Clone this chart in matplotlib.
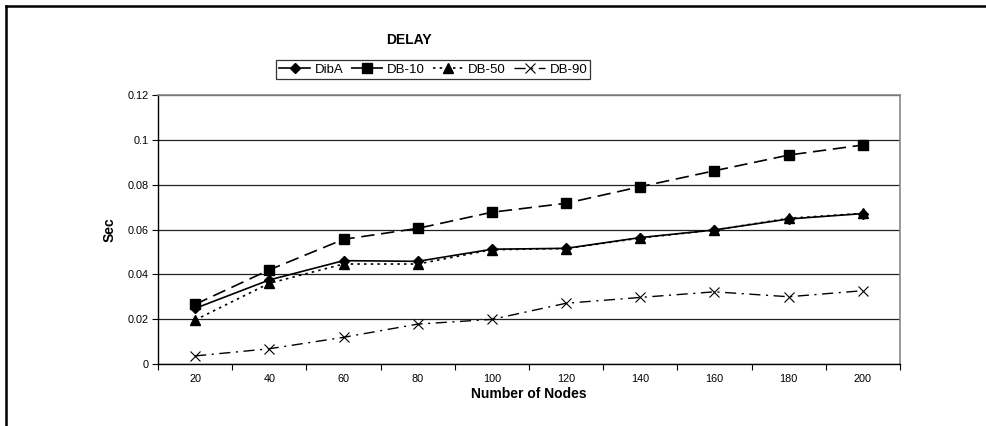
import matplotlib
matplotlib.use("Agg")
import matplotlib.pyplot as plt
from matplotlib.lines import Line2D

plt.rcParams['font.family'] = ['Liberation Sans', 'DejaVu Sans']

nodes = [20, 40, 60, 80, 100, 120, 140, 160, 180, 200]
diba = [0.0248, 0.0375, 0.0461, 0.0458, 0.0512, 0.0516, 0.0564, 0.0598, 0.0647, 0.0671]
db10 = [0.0266, 0.0420, 0.0556, 0.0605, 0.0677, 0.0717, 0.0791, 0.0862, 0.0932, 0.0977]
db50 = [0.0196, 0.0360, 0.0446, 0.0446, 0.0510, 0.0515, 0.0562, 0.0598, 0.0650, 0.0672]
db90 = [0.0036, 0.0068, 0.0119, 0.0178, 0.0199, 0.0271, 0.0297, 0.0322, 0.0300, 0.0327]
yticks = [0, 0.02, 0.04, 0.06, 0.08, 0.1, 0.12]
ytick_labels = ['0', '0.02', '0.04', '0.06', '0.08', '0.1', '0.12']

W, H = 987, 426
fig = plt.figure(figsize=(W / 100, H / 100), dpi=100)
ax = fig.add_axes([158 / W, 1 - 364 / H, (900 - 158) / W, (364 - 95) / H])

ax.plot(nodes, diba, color='black', lw=1.2, ls='-', marker='D', ms=5, label='DibA', zorder=4)
ax.plot(nodes, db10, color='black', lw=1.2, ls=(0, (8, 4)), marker='s', ms=7, label='DB-10', zorder=3)
ax.plot(nodes, db50, color='black', lw=1.2, ls=(0, (1.5, 2.5)), marker='^', ms=7, label='DB-50', zorder=3)
ax.plot(nodes, db90, color='black', lw=1.0, ls=(0, (8, 4, 1.5, 4)), marker='x', ms=7,
        mew=0.8, label='DB-90', zorder=3)

ax.set_xlim(10, 210)
ax.set_ylim(0, 0.12)
ax.set_xticks(nodes)
ax.set_xticklabels([str(n) for n in nodes])
ax.set_xticks([10 + 20 * k for k in range(11)], minor=True)
ax.tick_params(axis='x', which='major', length=0, labelsize=7.8, pad=7)
ax.tick_params(axis='x', which='minor', length=4, direction='out', width=0.8)
ax.set_yticks(yticks)
ax.set_yticklabels(ytick_labels)
ax.tick_params(axis='y', length=4, width=0.8, labelsize=7.8, direction='out', pad=3)

ax.grid(axis='y', color='#222222', lw=0.9)
ax.set_axisbelow(True)
for s in ['top', 'right']:
    ax.spines[s].set_color('#888888')
    ax.spines[s].set_linewidth(1.2)
for s in ['left', 'bottom']:
    ax.spines[s].set_color('black')
    ax.spines[s].set_linewidth(1.0)

ax.set_xlabel('Number of Nodes', fontsize=10, fontweight='bold', labelpad=2)
fig.text(110 / W, 1 - 230 / H, 'Sec', rotation=90, fontsize=10, fontweight='bold',
         ha='center', va='center')
fig.text(409 / W, 1 - 40 / H, 'DELAY', fontsize=10, fontweight='bold', ha='center', va='center')

leg = fig.legend(loc='center', bbox_to_anchor=(433 / W, 1 - 69.5 / H), ncol=4, fontsize=9.5,
                 frameon=True, fancybox=False, edgecolor='black', handlelength=2.4,
                 handletextpad=0.3, columnspacing=0.6, borderpad=0.25, borderaxespad=0)
leg.get_frame().set_linewidth(0.9)

fig.add_artist(Line2D([6 / W, 1.0], [1 - 6 / H, 1 - 6 / H], transform=fig.transFigure,
                      color='black', lw=1.8))
fig.add_artist(Line2D([6 / W, 6 / W], [0, 1 - 6 / H], transform=fig.transFigure,
                      color='black', lw=1.8))

fig.savefig('out.png', dpi=100)
